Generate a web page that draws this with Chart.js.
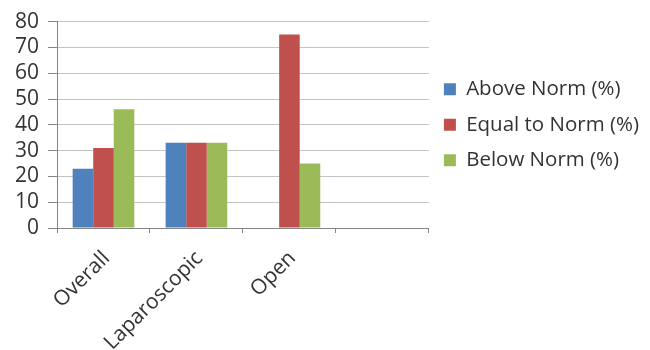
<!DOCTYPE html>
<html>
<head>
<meta charset="utf-8">
<script src="https://cdn.jsdelivr.net/npm/chart.js@4"></script>
<style>
html,body{margin:0;padding:0;background:#fff;}
#wrap{width:650px;height:350px;}
</style>
</head>
<body>
<div id="wrap"><canvas id="c" width="650" height="350"></canvas></div>
<script>
const categories = ["Overall", "Laparoscopic", "Open", ""];
const seriesNames = ["Above Norm (%)", "Equal to Norm (%)", "Below Norm (%)"];
const aboveNorm = [23, 33, 0, null];
const equalNorm = [31, 33, 75, null];
const belowNorm = [46, 33, 25, null];
const yTicks = [0, 10, 20, 30, 40, 50, 60, 70, 80];

const colors = ["#4F81BD", "#C0504D", "#9BBB59"];
const FONT = "Open Sans";
const FS = 21;
const LFS = 20.5;
const values = [aboveNorm, equalNorm, belowNorm];

function build() {
new Chart(document.getElementById("c"), {
  type: "bar",
  data: {
    labels: categories,
    datasets: seriesNames.map((n, i) => ({
      label: n,
      data: values[i],
      backgroundColor: colors[i],
      borderWidth: 0,
      barPercentage: 1,
      categoryPercentage: 0.663
    }))
  },
  options: {
    responsive: false,
    animation: false,
    devicePixelRatio: 1,
    layout: { padding: { top: 0, right: 1, left: 0, bottom: 0 } },
    plugins: {
      legend: {
        position: "right",
        align: "center",
        fullSize: false,
        maxWidth: 300,
        labels: {
          boxWidth: 12,
          boxHeight: 12,
          padding: 15,
          color: "#333",
          font: { family: FONT, size: LFS }
        }
      },
      tooltip: { enabled: false }
    },
    scales: {
      x: {
        afterFit: s => { s.height = 122; },
        grid: {
          drawOnChartArea: false,
          drawTicks: true,
          tickLength: 5,
          tickColor: "#868686",
          offset: true
        },
        border: { color: "#868686", width: 1 },
        ticks: {
          color: "#333",
          font: { family: FONT, size: FS },
          maxRotation: 45,
          minRotation: 45,
          padding: 13,
          labelOffset: 3,
          autoSkip: false
        }
      },
      y: {
        min: 0,
        max: 80,
        afterFit: s => { s.width = 57; },
        afterBuildTicks: s => { s.ticks = yTicks.map(v => ({ value: v })); },
        grid: {
          color: "#c4c4c4",
          tickColor: "#868686",
          tickLength: 9,
          drawTicks: true
        },
        border: { color: "#868686", width: 1 },
        ticks: {
          color: "#333",
          font: { family: FONT, size: FS },
          padding: 9,
          autoSkip: false
        }
      }
    }
  }
});
}
document.fonts.load(FS + "px '" + FONT + "'").then(build, build);
</script>
</body>
</html>
